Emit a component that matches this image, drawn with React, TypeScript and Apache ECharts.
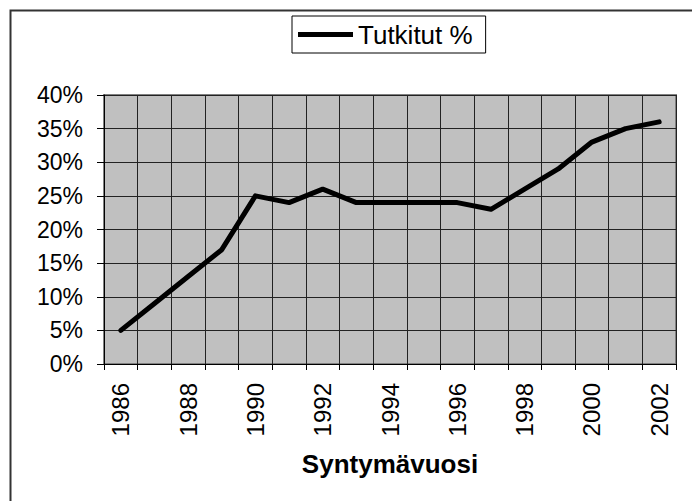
import React, { useEffect, useRef } from "react";
import * as echarts from "echarts";

const years = ["1986","1987","1988","1989","1990","1991","1992","1993","1994","1995","1996","1997","1998","1999","2000","2001","2002"];
const tutkitut = [5, 9, 13, 17, 25, 24, 26, 24, 24, 24, 24, 23, 26, 29, 33, 35, 36];
const seriesName = "Tutkitut %";
const xTitle = "Syntymävuosi";

const FONT = "'Liberation Sans', Arial, sans-serif";

export default function App() {
  const ref = useRef<HTMLDivElement>(null);
  useEffect(() => {
    if (!ref.current) return;
    const chart = echarts.init(ref.current, null, { renderer: "svg" });
    chart.setOption({
      animation: false,
      backgroundColor: "#ffffff",
      textStyle: { fontFamily: FONT },
      graphic: [
        {
          type: "rect",
          left: 8,
          top: 8,
          shape: { x: 0, y: 0, width: 720, height: 540 },
          style: { fill: "none", stroke: "#333333", lineWidth: 2 },
          silent: true,
          z: 100,
        },
      ],
      legend: {
        top: 16,
        left: 292,
        data: [{ name: seriesName, icon: "rect" }],
        itemWidth: 55,
        itemHeight: 5,
        padding: [5, 13, 5, 6],
        borderColor: "#000000",
        borderWidth: 1,
        backgroundColor: "#ffffff",
        textStyle: { fontSize: 26, color: "#000000", fontFamily: FONT, lineHeight: 27 },
      },
      grid: {
        left: 104,
        right: 16,
        top: 95,
        bottom: 137,
        show: true,
        backgroundColor: "#c0c0c0",
        borderColor: "#808080",
        borderWidth: 2,
        containLabel: false,
      },
      xAxis: {
        type: "category",
        data: years,
        boundaryGap: true,
        name: xTitle,
        nameLocation: "middle",
        nameGap: 87,
        nameTextStyle: { fontSize: 26, fontWeight: "bold", color: "#000000", fontFamily: FONT },
        axisLine: { show: true, lineStyle: { color: "#000000", width: 1 } },
        axisTick: { show: true, interval: 0, length: 6, lineStyle: { color: "#000000" } },
        axisLabel: { interval: 1, rotate: 90, margin: 19, fontSize: 24, color: "#000000", fontFamily: FONT },
        splitLine: { show: true, interval: 0, lineStyle: { color: "#222222", width: 1 } },
      },
      yAxis: {
        type: "value",
        min: 0,
        max: 40,
        interval: 5,
        axisLine: { show: true, lineStyle: { color: "#000000", width: 1 } },
        axisTick: { show: true, length: 7, lineStyle: { color: "#000000" } },
        axisLabel: { formatter: "{value}%", margin: 21, fontSize: 23, color: "#000000", fontFamily: FONT },
        splitLine: { show: true, lineStyle: { color: "#222222", width: 1 } },
      },
      series: [
        {
          name: seriesName,
          type: "line",
          data: tutkitut,
          symbol: "none",
          itemStyle: { color: "#000000" },
          lineStyle: { color: "#000000", width: 5, cap: "round", join: "round" },
        },
      ],
    });
    return () => chart.dispose();
  }, []);
  return (
    <div
      ref={ref}
      style={{ position: "fixed", left: 0, top: 0, width: 692, height: 501 }}
    />
  );
}
